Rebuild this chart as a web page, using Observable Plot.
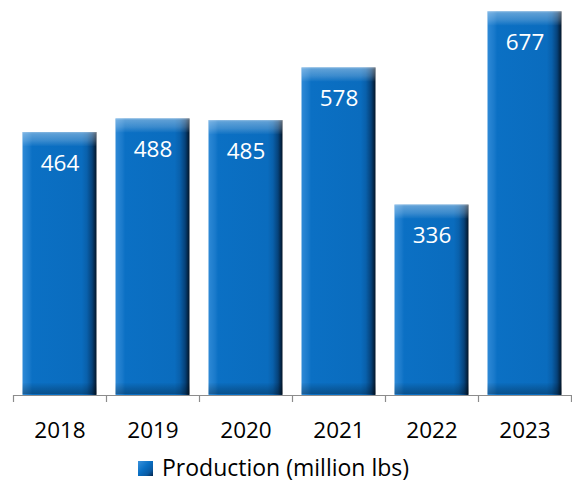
<!DOCTYPE html>
<html>
<head>
<meta charset="utf-8">
<script src="https://cdn.jsdelivr.net/npm/d3@7"></script>
<script src="https://cdn.jsdelivr.net/npm/@observablehq/plot@0.6"></script>
<style>
  html, body { margin: 0; padding: 0; background: #fff; overflow: hidden; }
  #chart svg { display: block; }
  .legend { height: 26px; margin-top: 2px; display: flex; align-items: center; padding-left: 138px;
    font-family: "Open Sans", sans-serif; font-size: 23px; line-height: 26px; color: #000; }
  .legend .sw { width: 15px; height: 15px; margin-right: 9px; margin-top: 3px; flex: none;
    background: linear-gradient(135deg, #3a92dc 0%, #0a6fc3 45%, #0a5aa3 75%, #03244a 100%); }
</style>
</head>
<body>
<div id="chart"></div>
<div class="legend"><span class="sw"></span><span>Production (million lbs)</span></div>
<script>
const years = ["2018", "2019", "2020", "2021", "2022", "2023"];
const production = [464, 488, 485, 578, 336, 677];
const seriesName = "Production (million lbs)";

const data = years.map((y, i) => ({year: y, value: production[i]}));

const W = 572, H = 452;
const fontFam = "'Open Sans', sans-serif";
const barInset = {insetLeft: 9.5, insetRight: 9.5};

const chart = Plot.plot({
  width: W,
  height: H,
  marginLeft: 13,
  marginRight: 1,
  marginTop: 0,
  marginBottom: 57,
  style: {fontFamily: fontFam, background: "#fff"},
  x: {domain: years, padding: 0, label: null},
  y: {domain: [0, 697], axis: null},
  marks: [
    // bar body with horizontal shading
    Plot.barY(data, {x: "year", y: "value", ...barInset, fill: "url(#gBody)"}),
    // top bevel
    Plot.barY(data, {x: "year", y1: "value", y2: "value", ...barInset, insetTop: 0, insetBottom: -14, fill: "url(#gTop)"}),
    // bottom bevel
    Plot.barY(data, {x: "year", y1: () => 0, y2: () => 0, ...barInset, insetTop: -12, insetBottom: 1, fill: "url(#gBot)"}),
    // axis line
    Plot.ruleY([0], {stroke: "#8c8c8c", strokeWidth: 1.2}),
    // boundary ticks
    Plot.ruleX(years, {x: d => d, dx: -46.5, y1: () => 0, y2: () => 0, insetBottom: -7, stroke: "#8c8c8c", strokeWidth: 1.2}),
    Plot.ruleX([years[years.length - 1]], {x: d => d, dx: 46.5, y1: () => 0, y2: () => 0, insetBottom: -7, stroke: "#8c8c8c", strokeWidth: 1.2}),
    Plot.axisX({tickSize: 0, tickPadding: 27, fontSize: 22.5, fill: "#000"}),
    // value labels
    Plot.text(data, {x: "year", y: "value", text: d => String(d.value), dy: 31, fill: "#fff", fontSize: 22.5, fontFamily: fontFam})
  ]
});

const defs = `
<defs>
  <linearGradient id="gBody" x1="0" y1="0" x2="1" y2="0">
    <stop offset="0" stop-color="#2e89d6"/>
    <stop offset="0.09" stop-color="#1a7acb"/>
    <stop offset="0.13" stop-color="#0b70c4"/>
    <stop offset="0.80" stop-color="#0a6cbe"/>
    <stop offset="0.87" stop-color="#0960ab"/>
    <stop offset="0.94" stop-color="#06427a"/>
    <stop offset="1" stop-color="#021427"/>
  </linearGradient>
  <linearGradient id="gTop" x1="0" y1="0" x2="0" y2="1">
    <stop offset="0" stop-color="#ffffff" stop-opacity="0.5"/>
    <stop offset="0.12" stop-color="#ffffff" stop-opacity="0.34"/>
    <stop offset="0.6" stop-color="#ffffff" stop-opacity="0.2"/>
    <stop offset="1" stop-color="#ffffff" stop-opacity="0.02"/>
  </linearGradient>
  <linearGradient id="gBot" x1="0" y1="0" x2="0" y2="1">
    <stop offset="0" stop-color="#000000" stop-opacity="0.02"/>
    <stop offset="0.5" stop-color="#000000" stop-opacity="0.16"/>
    <stop offset="1" stop-color="#000000" stop-opacity="0.28"/>
  </linearGradient>
</defs>`;
chart.insertAdjacentHTML("afterbegin", defs);
document.getElementById("chart").appendChild(chart);
</script>
</body>
</html>
